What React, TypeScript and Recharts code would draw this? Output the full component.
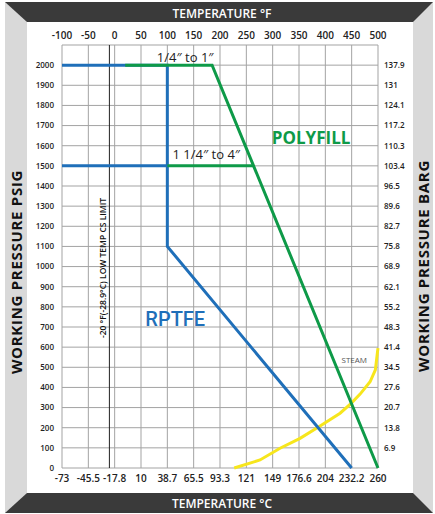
import { LineChart, Line, XAxis, YAxis, CartesianGrid, ReferenceLine, ReferenceDot } from "recharts";

const fTicks = [-100, -50, 0, 50, 100, 150, 200, 250, 300, 350, 400, 450, 500];
const cLabels = ["-73", "-45.5", "-17.8", "10", "38.7", "65.5", "93.3", "121", "149", "176.6", "204", "232.2", "260"];
const psiTicks = [0, 100, 200, 300, 400, 500, 600, 700, 800, 900, 1000, 1100, 1200, 1300, 1400, 1500, 1600, 1700, 1800, 1900, 2000, 2100];
const bargLabels = ["", "6.9", "13.8", "20.7", "27.6", "34.5", "41.4", "48.3", "55.2", "62.1", "68.9", "75.8", "82.7", "89.6", "96.5", "103.4", "110.3", "117.2", "124.1", "131", "137.9", ""];

// RPTFE seats
const rptfeSmallTemp = [-100, 100, 100, 450];
const rptfeSmallPsi = [2000, 2000, 1100, 0];
const rptfeLargeTemp = [-100, 100];
const rptfeLargePsi = [1500, 1500];

// Polyfill seats
const polySmallTemp = [20, 185, 500];
const polySmallPsi = [2000, 2000, 0];
const polyLargeTemp = [100, 264];
const polyLargePsi = [1500, 1500];

// saturated steam
const steamTemp = [227, 276, 314, 352, 390, 428, 449, 466, 485, 495, 499, 500];
const steamPsi = [0, 40, 98, 147, 209, 272, 321, 367, 428, 487, 575, 595];

const lowTempLimit = -10;

const pts = (t: number[], p: number[]) => t.map((v, i) => ({ t: v, p: p[i] }));

const BLUE = "#1f6fb9";
const GREEN = "#0e9a48";
const YELLOW = "#f7e61c";
const FONT = "'Open Sans', sans-serif";

const tickF = { fontSize: 10, fontWeight: 600, fill: "#222", fontFamily: FONT };
const tickSide = { fontSize: 8, fontWeight: 600, fill: "#222", fontFamily: FONT };

export default function App() {
  return (
    <div style={{ position: "absolute", left: 0, top: 0, width: 435, height: 514, background: "#fff" }}>
      <svg width={435} height={514} style={{ position: "absolute", left: 0, top: 0 }}>
        <rect x={5} y={2} width={428} height={511} fill="#d9d9d9" />
        <rect x={27} y={22} width={386} height={471} fill="#fff" />
        <polygon points="5,2 433,2 413,22 27,22" fill="#3a3a3a" />
        <polygon points="27,493 413,493 433,513 5,513" fill="#3a3a3a" />
        <text x={222} y={18} textAnchor="middle" fill="#fff" fontSize={12} fontWeight={600} fontFamily={FONT}>
          TEMPERATURE °F
        </text>
        <text x={222} y={508} textAnchor="middle" fill="#fff" fontSize={12} fontWeight={600} fontFamily={FONT}>
          TEMPERATURE °C
        </text>
        <text
          x={0}
          y={0}
          transform="translate(22,272) rotate(-90)"
          textAnchor="middle"
          fill="#111"
          fontSize={15}
          fontWeight={700}
          letterSpacing={0.7}
          fontFamily={FONT}
        >
          WORKING  PRESSURE PSIG
        </text>
        <text
          x={0}
          y={0}
          transform="translate(429,266) rotate(-90)"
          textAnchor="middle"
          fill="#111"
          fontSize={15}
          fontWeight={700}
          letterSpacing={0.7}
          fontFamily={FONT}
        >
          WORKING PRESSURE BARG
        </text>
      </svg>
      <div style={{ position: "absolute", left: 0, top: 0 }}>
        <LineChart width={435} height={514} margin={{ top: 0, right: 0, bottom: 0, left: 0 }}>
          <CartesianGrid xAxisId="f" yAxisId="psi" stroke="#a3a3a3" strokeWidth={1} />
          <XAxis
            xAxisId="f"
            orientation="top"
            dataKey="t"
            type="number"
            domain={[-100, 500]}
            ticks={fTicks}
            height={45}
            axisLine={false}
            tickLine={false}
            tickSize={0}
            tickMargin={6}
            tick={tickF}
            interval={0}
          />
          <XAxis
            xAxisId="c"
            orientation="bottom"
            dataKey="t"
            type="number"
            domain={[-100, 500]}
            ticks={fTicks}
            tickFormatter={(v: number) => cLabels[fTicks.indexOf(v)]}
            height={46}
            axisLine={false}
            tickLine={false}
            tickSize={0}
            tickMargin={7}
            tick={tickF}
            interval={0}
          />
          <YAxis
            yAxisId="psi"
            orientation="left"
            type="number"
            domain={[0, 2100]}
            ticks={psiTicks}
            tickFormatter={(v: number) => (v === 2100 ? "" : String(v))}
            width={62}
            axisLine={false}
            tickLine={false}
            tickSize={0}
            tickMargin={8}
            tick={tickSide}
            interval={0}
          />
          <YAxis
            yAxisId="barg"
            orientation="right"
            type="number"
            domain={[0, 2100]}
            ticks={psiTicks}
            tickFormatter={(v: number) => bargLabels[psiTicks.indexOf(v)]}
            width={57}
            axisLine={false}
            tickLine={false}
            tickSize={0}
            tickMargin={6}
            tick={tickSide}
            interval={0}
          />
          <ReferenceLine
            xAxisId="f"
            yAxisId="psi"
            x={lowTempLimit}
            stroke="#222"
            strokeWidth={1}
          />
          <Line xAxisId="c" yAxisId="barg" data={pts(steamTemp, steamPsi)} dataKey="p" stroke="none" dot={false} isAnimationActive={false} legendType="none" />
          <Line xAxisId="f" yAxisId="psi" data={pts(steamTemp, steamPsi)} dataKey="p" stroke={YELLOW} strokeWidth={3} dot={false} isAnimationActive={false} />
          <Line xAxisId="f" yAxisId="psi" data={pts(rptfeSmallTemp, rptfeSmallPsi)} dataKey="p" stroke={BLUE} strokeWidth={3} dot={false} isAnimationActive={false} />
          <Line xAxisId="f" yAxisId="psi" data={pts(rptfeLargeTemp, rptfeLargePsi)} dataKey="p" stroke={BLUE} strokeWidth={3} dot={false} isAnimationActive={false} />
          <Line xAxisId="f" yAxisId="psi" data={pts(polySmallTemp, polySmallPsi)} dataKey="p" stroke={GREEN} strokeWidth={3} dot={false} isAnimationActive={false} />
          <Line xAxisId="f" yAxisId="psi" data={pts(polyLargeTemp, polyLargePsi)} dataKey="p" stroke={GREEN} strokeWidth={3} dot={false} isAnimationActive={false} />
          <ReferenceDot xAxisId="f" yAxisId="psi" x={-23} y={993} r={0} fill="none" stroke="none"
            label={{ value: "-20 °F(-28.9°C) LOW TEMP CS LIMIT", position: "center", angle: -90, fill: "#111", fontSize: 8.5, fontWeight: 600, fontFamily: FONT }} />
          <ReferenceDot xAxisId="f" yAxisId="psi" x={134} y={2040} r={0} fill="none" stroke="none"
            label={{ value: "1/4″ to 1″", position: "center", fill: "#222", fontSize: 13, fontFamily: FONT }} />
          <ReferenceDot xAxisId="f" yAxisId="psi" x={174} y={1555} r={0} fill="none" stroke="none"
            label={{ value: "1 1/4″ to 4″", position: "center", fill: "#222", fontSize: 13, fontFamily: FONT }} />
          <ReferenceDot xAxisId="f" yAxisId="psi" x={373} y={1638} r={0} fill="none" stroke="none"
            label={{ value: "POLYFILL", position: "center", fill: GREEN, fontSize: 17, fontWeight: 700, fontFamily: FONT }} />
          <ReferenceDot xAxisId="f" yAxisId="psi" x={115} y={740} r={0} fill="none" stroke="none"
            label={{ value: "RPTFE", position: "center", fill: BLUE, fontSize: 20, fontWeight: 500, fontFamily: "Roboto, sans-serif" }} />
          <ReferenceDot xAxisId="f" yAxisId="psi" x={455} y={536} r={0} fill="none" stroke="none"
            label={{ value: "STEAM", position: "center", fill: "#555", fontSize: 8, fontFamily: FONT }} />
        </LineChart>
      </div>
    </div>
  );
}
